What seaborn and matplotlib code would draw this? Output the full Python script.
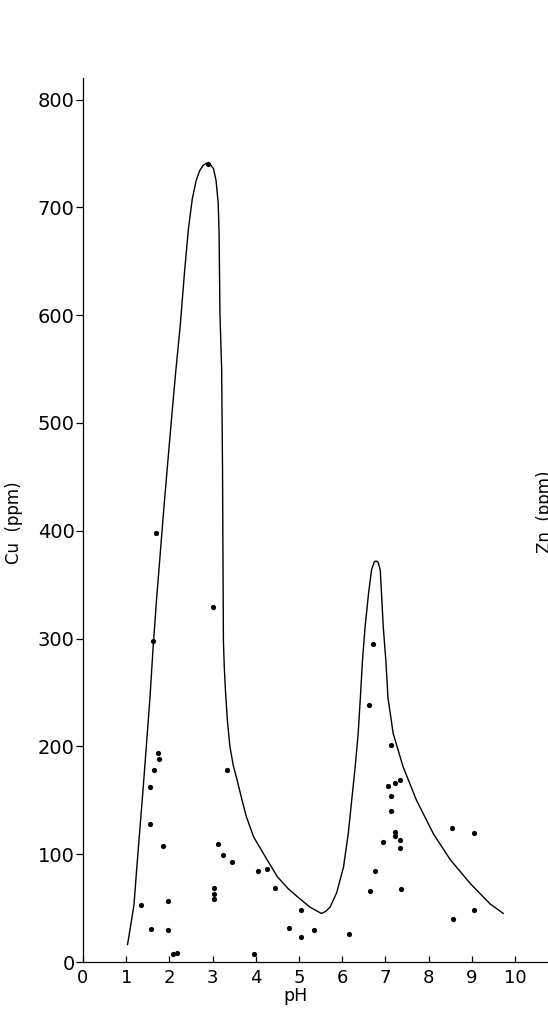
import matplotlib
matplotlib.use("Agg")
import seaborn as sns
import matplotlib.pyplot as plt


# 測定点 (pH, Cu ppm)
ph_pts = [2.89, 1.69, 3.02, 1.62,
          1.73, 1.75, 1.65, 1.55, 1.54, 1.86, 1.35, 1.57, 1.96, 1.96, 2.09, 2.17,
          3.33, 3.13, 3.24, 3.45, 3.04, 3.04, 3.04, 3.96, 4.05, 4.25, 4.44,
          4.76, 5.05, 5.05, 5.35, 6.16,
          6.72, 6.61, 7.13, 7.05, 7.23, 7.33, 7.13, 7.13, 7.23, 7.23, 7.34, 7.34,
          6.94, 6.76, 6.65, 7.35, 8.55, 9.06, 9.06, 8.56]
cu_pts = [740, 398, 329, 298,
          194, 188, 178, 162, 128, 108, 53, 31, 57, 30, 7, 8,
          178, 109, 99, 93, 69, 63, 58, 7, 84, 86, 69,
          32, 48, 23, 30, 26,
          295, 238, 201, 163, 166, 169, 154, 140, 121, 117, 113, 106,
          111, 84, 66, 68, 124, 120, 48, 40]

# 包絡線 (手書きの曲線をなぞったもの)
ph_curve = [1.03, 1.10, 1.18, 1.25, 1.32, 1.39, 1.46, 1.55, 1.62, 1.70, 1.78, 1.87,
            1.95, 2.08, 2.15, 2.25, 2.35, 2.44, 2.53, 2.62, 2.70, 2.78, 2.86, 2.94,
            3.02, 3.08, 3.13, 3.15, 3.17, 3.21, 3.23, 3.25, 3.27, 3.30, 3.34, 3.40,
            3.48, 3.56, 3.67, 3.78, 3.95, 4.20, 4.50, 4.75, 4.95, 5.25, 5.52, 5.62,
            5.72, 5.87, 6.03, 6.14, 6.22, 6.30, 6.37, 6.42, 6.47, 6.53, 6.61, 6.68,
            6.74, 6.78, 6.83, 6.88, 6.91, 6.95, 7.01, 7.06, 7.18, 7.41, 7.72, 8.11,
            8.50, 8.96, 9.42, 9.73]
cu_curve = [16, 33, 53, 90, 125, 160, 197, 245, 290, 335, 375, 420,
            458, 518, 549, 590, 640, 680, 708, 725, 734, 739, 741, 740,
            736, 725, 704, 676, 602, 549, 456, 298, 274, 250, 225, 200,
            182, 170, 152, 135, 116, 99, 79, 68, 61, 51, 45, 47,
            51, 64, 88, 119, 150, 181, 212, 245, 280, 311, 342, 364,
            371, 372, 371, 364, 342, 311, 280, 245, 212, 181, 150, 119,
            95, 73, 54, 45]

x_ticks = list(range(0, 11))
y_ticks = list(range(0, 801, 100))

sns.set_style("ticks")
plt.rcParams['font.family'] = ['DejaVu Sans']

fig = plt.figure(figsize=(5.48, 10.11), dpi=100)
ax = fig.add_axes([83 / 548, 49 / 1011, 465 / 548, 884 / 1011])

sns.lineplot(x=ph_curve, y=cu_curve, sort=False, estimator=None,
             color='black', linewidth=1.0, ax=ax)
sns.scatterplot(x=ph_pts, y=cu_pts, color='black', s=14, linewidth=0, ax=ax)

ax.set_xlim(0, 465 / 43.2)
ax.set_ylim(0, 884 / 1.078)
ax.set_xticks(x_ticks)
ax.set_yticks(y_ticks)

for side in ['top', 'right']:
    ax.spines[side].set_visible(False)
for side in ['left', 'bottom']:
    ax.spines[side].set_linewidth(0.9)
    ax.spines[side].set_color('black')

ax.tick_params(axis='y', direction='out', length=5, width=0.9, labelsize=14, pad=1,
               colors='black')
ax.tick_params(axis='x', direction='in', length=4, width=0.9, labelsize=13, pad=5,
               colors='black')

ax.set_xlabel('pH', fontsize=12.5, color='black')
ax.xaxis.set_label_coords(0.456, -0.028)
ax.set_ylabel('Cu  (ppm)', fontsize=12, color='black')
ax.yaxis.set_label_coords(-0.129, 0.497)

# 右隣の図の軸ラベル (紙面の端で切れている)
fig.text(536 / 548, 0.4936, 'Zn  (ppm)', rotation=90, rotation_mode='anchor',
         ha='center', va='top', fontsize=12, color='black')

plt.savefig('out.png', dpi=100)
